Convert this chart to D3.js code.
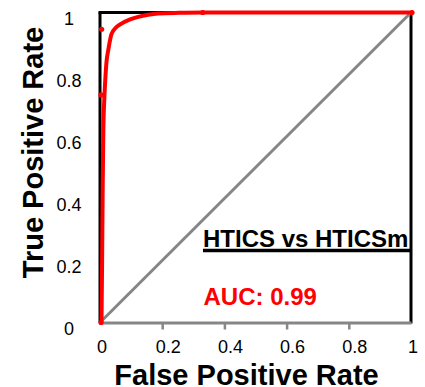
<!DOCTYPE html>
<html>
<head>
<meta charset="utf-8">
<script src="https://cdn.jsdelivr.net/npm/d3@7"></script>
<style>
  html, body { margin: 0; padding: 0; background: #fff; }
  svg { display: block; }
  text { font-family: "Liberation Sans", Arial, sans-serif; }
</style>
</head>
<body>
<svg id="chart" width="425" height="387"></svg>
<script>
// ROC curve (smoothed line) points
const fpr = [0, 0.002, 0.004, 0.006, 0.009, 0.012, 0.016, 0.022, 0.032, 0.045, 0.064, 0.09, 0.118, 0.15, 0.182, 0.25, 0.327, 0.5, 0.75, 1];
const tpr = [0, 0.2, 0.45, 0.62, 0.72, 0.78, 0.84, 0.88, 0.93, 0.95, 0.964, 0.977, 0.986, 0.993, 0.997, 0.999, 1, 1, 1, 1];
// marker points
const markerFpr = [0, 0, 0.002, 0.327, 1];
const markerTpr = [0, 0.734, 0.946, 1, 1];
// axis ticks
const xTicks = [0, 0.2, 0.4, 0.6, 0.8, 1];
const yTicks = [0, 0.2, 0.4, 0.6, 0.8, 1];
const xTitle = "False Positive Rate";
const yTitle = "True Positive Rate";
const comparisonLabel = "HTICS vs HTICSm";
const aucLabel = "AUC: 0.99";

const svg = d3.select("#chart");
const x = d3.scaleLinear().domain([0, 1]).range([100, 411]);
const y = d3.scaleLinear().domain([0, 1]).range([322.5, 12.5]);
const fmt = d => (d === 0 || d === 1) ? String(d) : d.toFixed(1);

// frame (black: top, left, right)
const frame = svg.append("g").attr("stroke", "#000").attr("stroke-width", 3).attr("fill", "none");
frame.append("line").attr("x1", x(0) - 1.5).attr("x2", x(1)).attr("y1", y(1)).attr("y2", y(1));
frame.append("line").attr("x1", x(0)).attr("x2", x(0)).attr("y1", y(1)).attr("y2", y(0));
frame.append("line").attr("x1", x(1)).attr("x2", x(1)).attr("y1", y(1)).attr("y2", y(0) + 1);

// x axis (gray)
const xAxis = svg.append("g")
  .attr("transform", `translate(0,${y(0)})`)
  .call(d3.axisBottom(x).tickValues(xTicks).tickSize(7).tickSizeOuter(0).tickFormat(fmt));
xAxis.select(".domain").attr("stroke", "#868686").attr("stroke-width", 3);
xAxis.selectAll(".tick line").attr("stroke", "#868686").attr("stroke-width", 2.5)
  .attr("display", d => (d === 0 || d === 1) ? "none" : null);
xAxis.selectAll(".tick text")
  .attr("fill", "#000").attr("font-size", 18)
  .attr("font-family", "'Liberation Sans', Arial, sans-serif")
  .attr("dy", null).attr("y", 30.5)
  .attr("x", d => (d === 0 || d === 1) ? 1.5 : 5.5);

// y axis (labels only)
const yAxis = svg.append("g")
  .attr("transform", `translate(${x(0)},0)`)
  .call(d3.axisLeft(y).tickValues(yTicks).tickSize(0).tickFormat(fmt));
yAxis.select(".domain").remove();
yAxis.selectAll(".tick text")
  .attr("fill", "#000").attr("font-size", 18)
  .attr("font-family", "'Liberation Sans', Arial, sans-serif")
  .attr("text-anchor", "middle")
  .attr("dy", null).attr("y", 11.5)
  .attr("x", 69 - x(0));

// diagonal reference line
svg.append("line")
  .attr("x1", x(0)).attr("y1", y(0)).attr("x2", x(1)).attr("y2", y(1))
  .attr("stroke", "#868686").attr("stroke-width", 3);

// ROC curve
const pts = fpr.map((f, i) => [f, tpr[i]]);
svg.append("path")
  .datum(pts)
  .attr("fill", "none")
  .attr("stroke", "#ff0000")
  .attr("stroke-width", 4)
  .attr("stroke-linejoin", "round")
  .attr("d", d3.line().x(d => x(d[0]) + 1.5).y(d => y(d[1])).curve(d3.curveMonotoneX));

svg.append("g").selectAll("circle")
  .data(markerFpr.map((f, i) => [f, markerTpr[i]]))
  .join("circle")
  .attr("cx", d => x(d[0]) + 1)
  .attr("cy", d => y(d[1]))
  .attr("r", 2.6)
  .attr("fill", "#ff0000");

// annotations
svg.append("text")
  .attr("x", 203).attr("y", 247)
  .attr("font-size", 24).attr("font-weight", "bold").attr("fill", "#000")
  .text(comparisonLabel);
svg.append("line")
  .attr("x1", 203).attr("x2", 410).attr("y1", 250.5).attr("y2", 250.5)
  .attr("stroke", "#000").attr("stroke-width", 3.5);
svg.append("text")
  .attr("x", 203.5).attr("y", 305)
  .attr("font-size", 24).attr("font-weight", "bold").attr("fill", "#ff0000")
  .text(aucLabel);

// axis titles
svg.append("text")
  .attr("x", 246.5).attr("y", 385)
  .attr("text-anchor", "middle")
  .attr("font-size", 29).attr("font-weight", "bold").attr("fill", "#000")
  .text(xTitle);
svg.append("text")
  .attr("transform", "translate(43,152.5) rotate(-90)")
  .attr("text-anchor", "middle")
  .attr("font-size", 29).attr("font-weight", "bold").attr("fill", "#000")
  .text(yTitle);
</script>
</body>
</html>
